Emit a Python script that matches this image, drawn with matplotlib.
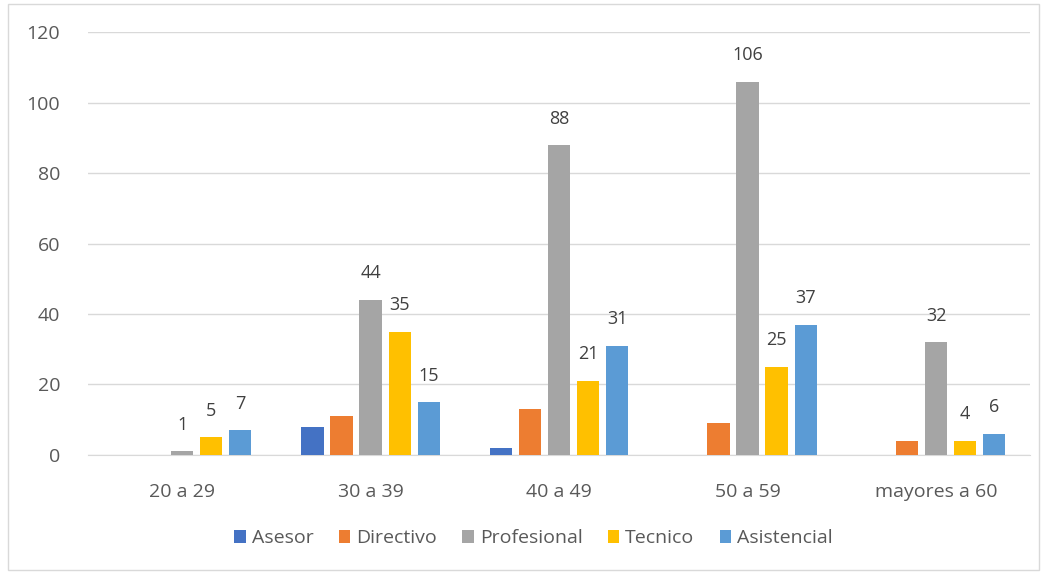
import numpy as np
import matplotlib.pyplot as plt
from matplotlib.patches import Rectangle

# categories and series
categorias = ["20 a 29", "30 a 39", "40 a 49", "50 a 59", "mayores a 60"]
asesor = [0, 8, 2, 0, 0]
directivo = [0, 11, 13, 9, 4]
profesional = [1, 44, 88, 106, 32]
tecnico = [5, 35, 21, 25, 4]
asistencial = [7, 15, 31, 37, 6]

series = ["Asesor", "Directivo", "Profesional", "Tecnico", "Asistencial"]
valores = [asesor, directivo, profesional, tecnico, asistencial]
colores = ["#4472C4", "#ED7D31", "#A5A5A5", "#FFC000", "#5B9BD5"]
con_etiqueta = [False, False, True, True, True]

plt.rcParams['font.family'] = ['Open Sans', 'DejaVu Sans']

fig = plt.figure(figsize=(10.46, 5.75), dpi=100)
ax = fig.add_axes([0.084, 0.209, 0.901, 0.735])

x = np.arange(len(categorias))
paso = 0.154
ancho = 0.118
for i, (nombre, vals, col, lab) in enumerate(zip(series, valores, colores, con_etiqueta)):
    pos = x + (i - 2) * paso
    ax.bar(pos, vals, width=ancho, color=col, label=nombre, zorder=3)
    if lab:
        for px, v in zip(pos, vals):
            ax.annotate(str(v), (px, v), xytext=(0, 19), textcoords='offset points',
                        ha='center', va='center', fontsize=13, color='#404040')

ax.set_xlim(-0.5, 4.5)
ax.set_ylim(0, 120)
ax.set_yticks(range(0, 121, 20))
ax.set_xticks(x)
ax.set_xticklabels(categorias)
ax.grid(axis='y', color='#D9D9D9', linewidth=1, zorder=0)
for s in ['top', 'right', 'left']:
    ax.spines[s].set_visible(False)
ax.spines['bottom'].set_color('#D9D9D9')
ax.tick_params(axis='x', length=0, pad=20, labelsize=14, labelcolor='#595959')
ax.tick_params(axis='y', length=0, pad=20, labelsize=14, labelcolor='#595959')

fig.legend(loc='center', bbox_to_anchor=(0.51, 0.064), ncol=5, frameon=False,
           fontsize=14, handlelength=0.6, handleheight=0.7, handletextpad=0.3,
           columnspacing=1.3, labelcolor='#595959')

# thin chart-area border
fig.patches.append(Rectangle((0.008, 0.008), 0.985, 0.985, transform=fig.transFigure,
                             fill=False, edgecolor='#D9D9D9', linewidth=1))

fig.savefig("out.png", dpi=100)
